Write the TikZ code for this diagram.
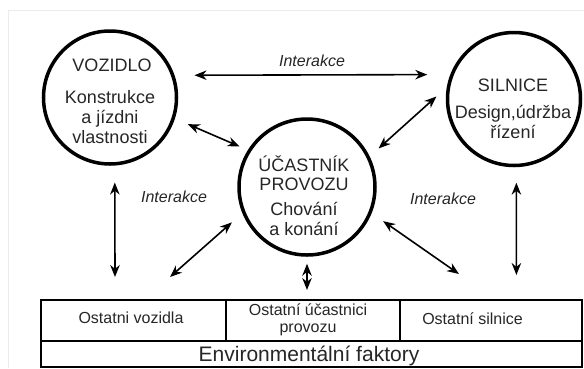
\documentclass[tikz,border=0pt]{standalone}
\usepackage{fontspec}
\setmainfont{Liberation Sans}
\usetikzlibrary{arrows.meta}

\begin{document}
\begin{tikzpicture}[x=1pt,y=-1pt,
    circ/.style={draw,circle,line width=3.5pt,inner sep=0pt},
    ttl/.style={font=\fontsize{18}{20}\selectfont,text=black!85,align=center},
    lbl/.style={font=\fontsize{16}{18}\selectfont\itshape,text=black!85},
    cell/.style={font=\fontsize{16}{17}\selectfont,text=black!85,align=center},
    arr/.style={{Stealth[length=12pt,width=9.5pt]}-{Stealth[length=12pt,width=9.5pt]},line width=1.6pt}]
      \useasboundingbox (0,0) rectangle (584,368) ;
      \draw[black!8,line width=0.8pt] (8,368)--(8,10)--(584,10) ;
      % the three circles
      \node[circ,minimum size=133pt] (voz) at (110,97.5) {} ;
      \node[circ,minimum size=133pt] (sil) at (514,99) {} ;
      \node[circ,minimum size=136pt] (uca) at (307,187) {} ;
      \node[ttl] (vozT) at (112,65) {VOZIDLO} ;
      \node[ttl] (vozD) at (110,116.6) {Konstrukce\\a jízdni\\vlastnosti} ;
      \node[ttl] (silT) at (513,85) {SILNICE} ;
      \node[ttl] (silD) at (513,122) {Design,údržba\\řízení} ;
      \node[ttl,font=\fontsize{18}{19}\selectfont] (ucaT) at (304,173) {ÚČASTNÍK\\PROVOZU} ;
      \node[ttl] (ucaD) at (304,218.5) {Chování\\a konání} ;
      % table at the bottom
      \draw[line width=1.5pt] (41,300) rectangle (582,367) ;
      \draw[line width=1.5pt] (41,341)--(582,341) (226,300)--(226,341) ;
      \draw[line width=2.4pt] (400,300)--(400,341) ;
      \node[cell] (ov) at (131,318) {Ostatni vozidla} ;
      \node[cell] (ou) at (308,319.5) {Ostatní účastnici\\provozu} ;
      \node[cell] (os) at (472.5,318.5) {Ostatní silnice} ;
      \node[font=\fontsize{21}{24}\selectfont,text=black!85] (env) at (309,356) {Environmentální faktory} ;
      % free ends of the arrows
      \coordinate (c1) at (115,277) ;
      \coordinate (c2) at (170,277) ;
      \coordinate (c3) at (307,290) ;
      \coordinate (c4) at (459,274) ;
      \coordinate (c5) at (516.4,275) ;
      \draw[arr,shorten <=20pt,shorten >=23pt] (voz.19)--(sil.159.5) ;
      \draw[arr,shorten <=14pt,shorten >=9pt] (voz.-18)--(uca.148) ;
      \draw[arr,shorten <=14pt,shorten >=12pt] (sil.170)--(uca.26) ;
      \draw[arr,shorten <=17pt] (voz.-86)--(c1) ;
      \draw[arr,shorten <=14pt] (uca.202.6)--(c2) ;
      \draw[arr,shorten <=7pt] (uca.south)--(c3) ;
      \draw[arr,shorten <=14pt] (uca.-22.8)--(c4) ;
      \draw[arr,shorten <=15.5pt] (sil.-88)--(c5) ;
      \node[lbl] (i1) at (312,61) {Interakce} ;
      \node[lbl] (i2) at (174,196.5) {Interakce} ;
      \node[lbl] (i3) at (443,199) {Interakce} ;
    \end{tikzpicture}
\end{document}
